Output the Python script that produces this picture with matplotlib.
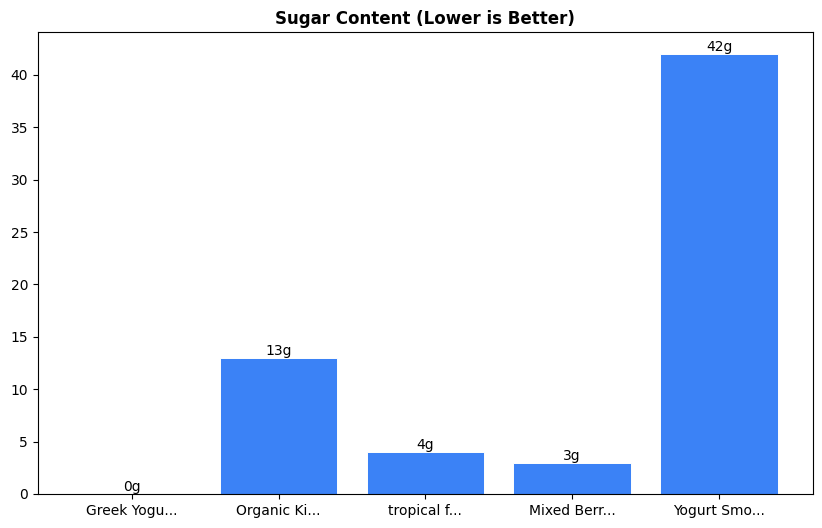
import matplotlib
matplotlib.use("Agg")
import matplotlib.pyplot as plt

# Product names (truncated as shown) and sugar grams
products = ["Greek Yogu...", "Organic Ki...", "tropical f...", "Mixed Berr...", "Yogurt Smo..."]
sugar = [0, 13, 4, 3, 42]

fig = plt.figure(figsize=(8.22, 5.28), dpi=100)
ax = fig.add_axes([0.046, 0.0644, 0.943, 0.875])

bars = ax.bar(products, sugar, color="#3b82f6", edgecolor="white", linewidth=0.7, width=0.8)
for b, v in zip(bars, sugar):
    ax.text(b.get_x() + b.get_width() / 2, b.get_height(), f"{v}g",
            ha="center", va="bottom", fontsize=10)

ax.set_title("Sugar Content (Lower is Better)", fontweight="bold", fontsize=12)

fig.savefig("out.png", dpi=100)
